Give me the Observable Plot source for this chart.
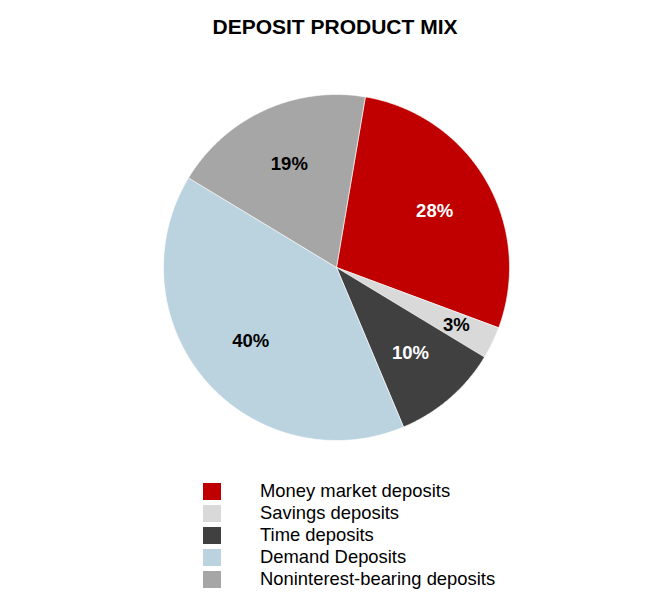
<!DOCTYPE html>
<html>
<head>
<meta charset="utf-8">
<script src="https://cdn.jsdelivr.net/npm/d3@7"></script>
<script src="https://cdn.jsdelivr.net/npm/@observablehq/plot@0.6"></script>
<style>
  body { margin: 0; background: #fff; font-family: "Liberation Sans", Arial, sans-serif; }
  #wrap { position: relative; width: 672px; height: 604px; }
  #title { position: absolute; left: 0; width: 670px; top: 15px; text-align: center; font-weight: bold; font-size: 21px; color: #000; }
  #chart { position: absolute; left: 0; top: 0; }
  #legend { position: absolute; left: 203px; top: 480px; }
  .row { display: flex; align-items: center; height: 22px; }
  .sw { width: 18px; height: 17px; margin-right: 39px; }
  .lab { font-size: 18.4px; color: #000; line-height: 22px; }
</style>
</head>
<body>
<div id="wrap">
  <div id="chart"></div>
  <div id="title">DEPOSIT PRODUCT MIX</div>
  <div id="legend"></div>
</div>
<script>
const categories = ["Money market deposits", "Savings deposits", "Time deposits", "Demand Deposits", "Noninterest-bearing deposits"];
const values = [28, 3, 10, 40, 19];
const colors = ["#C00000", "#D9D9D9", "#404040", "#BAD3DF", "#A6A6A6"];
const labelColors = ["#fff", "#000", "#fff", "#000", "#000"];
const startAngleDeg = 9.6;

const total = d3.sum(values);
const start = startAngleDeg * Math.PI / 180;
let acc = start;
const slices = values.map((v, i) => {
  const a0 = acc, a1 = acc + (v / total) * 2 * Math.PI;
  acc = a1;
  return {category: categories[i], value: v, a0, a1, i};
});

// polygon outline for each slice (center + arc points), in unit-circle coordinates
const outline = [];
for (const s of slices) {
  outline.push({category: s.category, x: 0, y: 0});
  const n = Math.max(2, Math.ceil((s.a1 - s.a0) / 0.01));
  for (let k = 0; k <= n; k++) {
    const a = s.a0 + (s.a1 - s.a0) * k / n;
    outline.push({category: s.category, x: Math.sin(a), y: Math.cos(a)});
  }
  outline.push({category: s.category, x: 0, y: 0});
}

const labels = slices.map(s => {
  const m = (s.a0 + s.a1) / 2;
  const r = s.value < 5 ? 0.77 : 0.655;
  return {text: s.value + "%", x: r * Math.sin(m), y: r * Math.cos(m), color: labelColors[s.i]};
});

const cx = 336, cy = 267, R = 173;
const W = 672, H = 470;
const plot = Plot.plot({
  width: W,
  height: H,
  marginLeft: cx - R,
  marginRight: W - (cx + R),
  marginTop: cy - R,
  marginBottom: H - (cy + R),
  x: {domain: [-1, 1], axis: null},
  y: {domain: [-1, 1], axis: null},
  color: {domain: categories, range: colors},
  style: {fontFamily: "'Liberation Sans', Arial, sans-serif"},
  marks: [
    Plot.line(outline, {x: "x", y: "y", z: "category", fill: "category", stroke: "#fff", strokeWidth: 0.6, curve: "linear-closed"}),
    Plot.text(labels, {x: "x", y: "y", text: "text", fill: d => d.color, fontSize: 18.5, fontWeight: "bold"})
  ]
});
document.getElementById("chart").appendChild(plot);

const legend = document.getElementById("legend");
categories.forEach((c, i) => {
  const row = document.createElement("div");
  row.className = "row";
  row.innerHTML = `<div class="sw" style="background:${colors[i]}"></div><div class="lab">${c}</div>`;
  legend.appendChild(row);
});
</script>
</body>
</html>
